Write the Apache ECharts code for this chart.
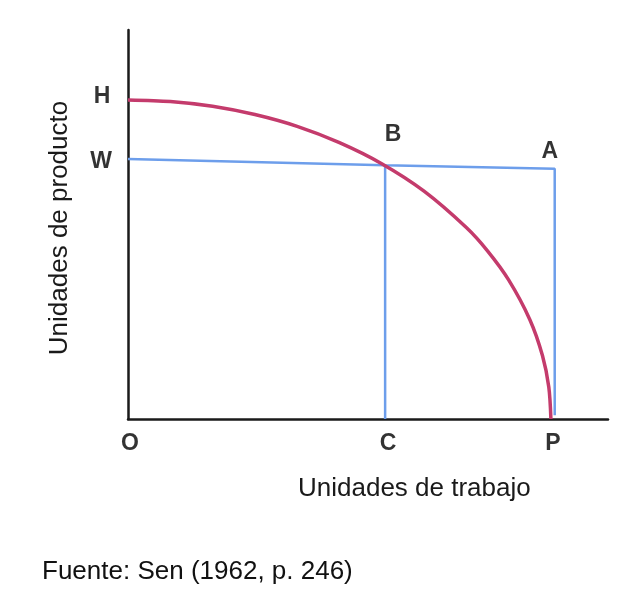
<!DOCTYPE html>
<html><head><meta charset="utf-8">
<script src="https://cdn.jsdelivr.net/npm/echarts@6/dist/echarts.min.js"></script>
<style>html,body{margin:0;padding:0;background:#fff}#c{width:628px;height:604px}</style>
</head><body><div id="c"></div>
<script>
// Frontier curve H -> P
const curveX = [0, 1, 2, 3, 4, 5, 6, 7, 8, 8.5, 9, 9.5, 9.8, 9.95, 10];
const curveY = [10, 9.95, 9.8, 9.54, 9.17, 8.66, 8.0, 7.14, 6.0, 5.27, 4.36, 3.12, 1.99, 1.0, 0];
// Blue lines W -> B -> A -> down toward P, and B -> C
const wLineX = [0, 6.08, 10.09, 10.09];
const wLineY = [8.15, 7.95, 7.84, 0.12];
const cLineX = [6.08, 6.08];
const cLineY = [7.95, 0];
// Point labels
const ptNames = ['H', 'W', 'B', 'A', 'O', 'C', 'P'];
const ptX = [0, 0, 6.08, 10.09, 0, 6.08, 10];
const ptY = [10, 8.15, 7.95, 7.84, 0, 0, 0];
const xTitle = 'Unidades de trabajo';
const yTitle = 'Unidades de producto';
const source = 'Fuente: Sen (1962, p. 246)';

const labelOffsets = {H:[-26,-3], W:[-27,3], B:[8,-31], A:[-5,-17], O:[2,25], C:[3,25], P:[2,25]};

const chart = echarts.init(document.getElementById('c'));
const pair = (xs, ys) => xs.map((x, i) => [x, ys[i]]);
chart.setOption({
  animation: false,
  grid: {left: 128, top: 30, width: 480, height: 389},
  xAxis: {type: 'value', min: 0, max: 11.35, axisLine: {lineStyle: {color: '#1a1a1a', width: 2.5}},
    axisTick: {show: false}, axisLabel: {show: false}, splitLine: {show: false}},
  yAxis: {type: 'value', min: 0, max: 12.19, axisLine: {show: true, lineStyle: {color: '#1a1a1a', width: 2.5}},
    axisTick: {show: false}, axisLabel: {show: false}, splitLine: {show: false}},
  series: [
    {type: 'line', data: pair(wLineX, wLineY), symbol: 'none', lineStyle: {color: '#6d9eeb', width: 2.5}, z: 2},
    {type: 'line', data: pair(cLineX, cLineY), symbol: 'none', lineStyle: {color: '#6d9eeb', width: 2.5}, z: 2},
    {type: 'line', data: pair(curveX, curveY), symbol: 'none', smooth: 0.3, lineStyle: {color: '#c43b6c', width: 3.5}, z: 3},
    {type: 'scatter', symbolSize: 0, silent: true, z: 5,
      data: ptNames.map((n, i) => ({value: [ptX[i], ptY[i]], name: n,
        label: {show: true, formatter: n, position: 'inside', offset: labelOffsets[n],
          fontFamily: 'Liberation Sans', fontWeight: 'bold', fontSize: 23, color: '#000'}}))}
  ],
  graphic: [
    {type: 'text', left: 298, top: 476, style: {text: xTitle, font: '26px "Liberation Sans"', fill: '#1a1a1a'}},
    {type: 'text', x: 60, y: 228, rotation: Math.PI / 2,
      style: {text: yTitle, font: '26px "Liberation Sans"', fill: '#1a1a1a', align: 'center', verticalAlign: 'middle'}},
    {type: 'text', left: 42, top: 559, style: {text: source, font: '26px "Liberation Sans"', fill: '#111'}}
  ]
});
</script></body></html>
